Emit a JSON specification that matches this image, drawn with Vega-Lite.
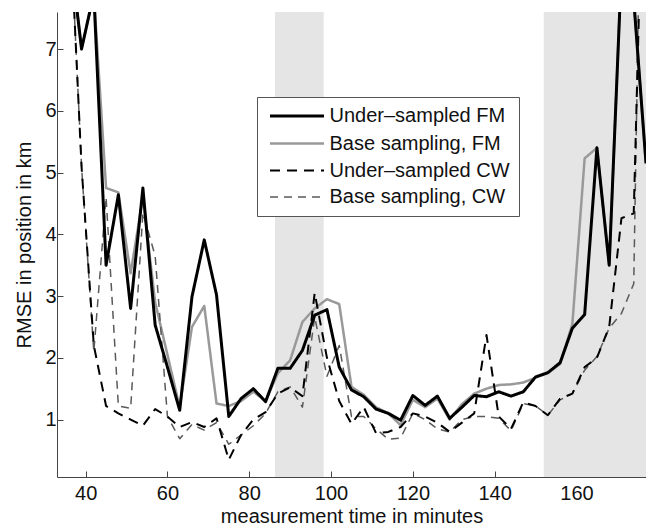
{
  "$schema": "https://vega.github.io/schema/vega-lite/v6.json",
  "width": 589,
  "height": 465,
  "autosize": {"type": "none"},
  "padding": {"left": 57, "top": 12, "right": 0, "bottom": 52},
  "background": "white",
  "config": {
    "view": {"stroke": null},
    "font": "Liberation Sans",
    "axis": {
      "grid": false,
      "domainColor": "#444444",
      "domainWidth": 1,
      "tickColor": "#444444",
      "tickSize": -6,
      "tickWidth": 1,
      "labelFont": "Liberation Sans",
      "labelFontSize": 20,
      "labelColor": "#111111",
      "titleFont": "Liberation Sans",
      "titleFontSize": 20,
      "titleFontWeight": "normal",
      "titleColor": "#111111",
      "zindex": 1
    },
    "legend": {
      "labelFont": "Liberation Sans",
      "labelFontSize": 20,
      "labelColor": "#111111"
    }
  },
  "layer": [
    {
      "data": {"values": [{"start": 86.3, "end": 98.2}, {"start": 152, "end": 177}]},
      "mark": {"type": "rect", "color": "#e5e5e5"},
      "encoding": {
        "x": {"field": "start", "type": "quantitative", "scale": {"domain": [33, 177], "nice": false, "zero": false},
              "axis": {"values": [40, 60, 80, 100, 120, 140, 160], "title": "measurement time in minutes", "labelPadding": 12, "titlePadding": 3}},
        "x2": {"field": "end"}
      }
    },
    {
      "data": {"values": [
        {"t":36,"v":8.7,"s":"Base sampling, FM"},{"t":39,"v":7.0,"s":"Base sampling, FM"},{"t":42,"v":7.9,"s":"Base sampling, FM"},{"t":45,"v":4.75,"s":"Base sampling, FM"},{"t":48,"v":4.68,"s":"Base sampling, FM"},{"t":51,"v":3.37,"s":"Base sampling, FM"},{"t":54,"v":4.6,"s":"Base sampling, FM"},{"t":57,"v":2.9,"s":"Base sampling, FM"},{"t":60,"v":2.05,"s":"Base sampling, FM"},{"t":63,"v":1.2,"s":"Base sampling, FM"},{"t":66,"v":2.5,"s":"Base sampling, FM"},{"t":69,"v":2.84,"s":"Base sampling, FM"},{"t":72,"v":1.26,"s":"Base sampling, FM"},{"t":75,"v":1.22,"s":"Base sampling, FM"},{"t":78,"v":1.3,"s":"Base sampling, FM"},{"t":81,"v":1.45,"s":"Base sampling, FM"},{"t":84,"v":1.3,"s":"Base sampling, FM"},{"t":87,"v":1.75,"s":"Base sampling, FM"},{"t":90,"v":1.96,"s":"Base sampling, FM"},{"t":93,"v":2.58,"s":"Base sampling, FM"},{"t":96,"v":2.8,"s":"Base sampling, FM"},{"t":99,"v":2.95,"s":"Base sampling, FM"},{"t":102,"v":2.87,"s":"Base sampling, FM"},{"t":105,"v":1.53,"s":"Base sampling, FM"},{"t":108,"v":1.4,"s":"Base sampling, FM"},{"t":111,"v":1.2,"s":"Base sampling, FM"},{"t":114,"v":1.1,"s":"Base sampling, FM"},{"t":117,"v":0.91,"s":"Base sampling, FM"},{"t":120,"v":1.32,"s":"Base sampling, FM"},{"t":123,"v":1.2,"s":"Base sampling, FM"},{"t":126,"v":1.34,"s":"Base sampling, FM"},{"t":129,"v":1.0,"s":"Base sampling, FM"},{"t":132,"v":1.25,"s":"Base sampling, FM"},{"t":135,"v":1.42,"s":"Base sampling, FM"},{"t":138,"v":1.5,"s":"Base sampling, FM"},{"t":141,"v":1.56,"s":"Base sampling, FM"},{"t":144,"v":1.57,"s":"Base sampling, FM"},{"t":147,"v":1.6,"s":"Base sampling, FM"},{"t":150,"v":1.68,"s":"Base sampling, FM"},{"t":153,"v":1.75,"s":"Base sampling, FM"},{"t":156,"v":1.9,"s":"Base sampling, FM"},{"t":159,"v":2.55,"s":"Base sampling, FM"},{"t":162,"v":5.23,"s":"Base sampling, FM"},{"t":165,"v":5.4,"s":"Base sampling, FM"},{"t":168,"v":3.5,"s":"Base sampling, FM"},{"t":171,"v":8.3,"s":"Base sampling, FM"},{"t":174,"v":7.8,"s":"Base sampling, FM"},{"t":177,"v":5.15,"s":"Base sampling, FM"},

        {"t":36,"v":9.3,"s":"Base sampling, CW"},{"t":39,"v":5.1,"s":"Base sampling, CW"},{"t":42,"v":2.1,"s":"Base sampling, CW"},{"t":45,"v":4.6,"s":"Base sampling, CW"},{"t":48,"v":1.22,"s":"Base sampling, CW"},{"t":51,"v":1.18,"s":"Base sampling, CW"},{"t":54,"v":4.35,"s":"Base sampling, CW"},{"t":57,"v":3.65,"s":"Base sampling, CW"},{"t":60,"v":1.05,"s":"Base sampling, CW"},{"t":63,"v":0.69,"s":"Base sampling, CW"},{"t":66,"v":0.92,"s":"Base sampling, CW"},{"t":69,"v":0.83,"s":"Base sampling, CW"},{"t":72,"v":0.95,"s":"Base sampling, CW"},{"t":75,"v":0.6,"s":"Base sampling, CW"},{"t":78,"v":0.75,"s":"Base sampling, CW"},{"t":81,"v":0.9,"s":"Base sampling, CW"},{"t":84,"v":1.1,"s":"Base sampling, CW"},{"t":87,"v":1.45,"s":"Base sampling, CW"},{"t":90,"v":1.53,"s":"Base sampling, CW"},{"t":93,"v":1.2,"s":"Base sampling, CW"},{"t":96,"v":2.66,"s":"Base sampling, CW"},{"t":99,"v":1.7,"s":"Base sampling, CW"},{"t":102,"v":2.2,"s":"Base sampling, CW"},{"t":105,"v":1.05,"s":"Base sampling, CW"},{"t":108,"v":1.05,"s":"Base sampling, CW"},{"t":111,"v":0.85,"s":"Base sampling, CW"},{"t":114,"v":0.68,"s":"Base sampling, CW"},{"t":117,"v":0.7,"s":"Base sampling, CW"},{"t":120,"v":1.1,"s":"Base sampling, CW"},{"t":123,"v":1.0,"s":"Base sampling, CW"},{"t":126,"v":0.85,"s":"Base sampling, CW"},{"t":129,"v":0.8,"s":"Base sampling, CW"},{"t":132,"v":1.0,"s":"Base sampling, CW"},{"t":135,"v":1.05,"s":"Base sampling, CW"},{"t":138,"v":1.05,"s":"Base sampling, CW"},{"t":141,"v":1.02,"s":"Base sampling, CW"},{"t":144,"v":0.82,"s":"Base sampling, CW"},{"t":147,"v":1.26,"s":"Base sampling, CW"},{"t":150,"v":1.22,"s":"Base sampling, CW"},{"t":153,"v":1.07,"s":"Base sampling, CW"},{"t":156,"v":1.32,"s":"Base sampling, CW"},{"t":159,"v":1.42,"s":"Base sampling, CW"},{"t":162,"v":1.8,"s":"Base sampling, CW"},{"t":165,"v":2.02,"s":"Base sampling, CW"},{"t":168,"v":2.48,"s":"Base sampling, CW"},{"t":171,"v":2.72,"s":"Base sampling, CW"},{"t":174,"v":3.2,"s":"Base sampling, CW"},{"t":177,"v":15,"s":"Base sampling, CW"},

        {"t":36,"v":9.3,"s":"Under–sampled CW"},{"t":39,"v":5.1,"s":"Under–sampled CW"},{"t":42,"v":2.2,"s":"Under–sampled CW"},{"t":45,"v":1.22,"s":"Under–sampled CW"},{"t":48,"v":1.1,"s":"Under–sampled CW"},{"t":51,"v":1.0,"s":"Under–sampled CW"},{"t":54,"v":0.9,"s":"Under–sampled CW"},{"t":57,"v":1.17,"s":"Under–sampled CW"},{"t":60,"v":1.05,"s":"Under–sampled CW"},{"t":63,"v":0.88,"s":"Under–sampled CW"},{"t":66,"v":0.96,"s":"Under–sampled CW"},{"t":69,"v":0.88,"s":"Under–sampled CW"},{"t":72,"v":1.02,"s":"Under–sampled CW"},{"t":75,"v":0.35,"s":"Under–sampled CW"},{"t":78,"v":0.75,"s":"Under–sampled CW"},{"t":81,"v":1.0,"s":"Under–sampled CW"},{"t":84,"v":1.12,"s":"Under–sampled CW"},{"t":87,"v":1.42,"s":"Under–sampled CW"},{"t":90,"v":1.52,"s":"Under–sampled CW"},{"t":93,"v":1.38,"s":"Under–sampled CW"},{"t":96,"v":3.05,"s":"Under–sampled CW"},{"t":99,"v":2.0,"s":"Under–sampled CW"},{"t":102,"v":1.3,"s":"Under–sampled CW"},{"t":105,"v":0.93,"s":"Under–sampled CW"},{"t":108,"v":1.2,"s":"Under–sampled CW"},{"t":111,"v":0.78,"s":"Under–sampled CW"},{"t":114,"v":0.8,"s":"Under–sampled CW"},{"t":117,"v":0.88,"s":"Under–sampled CW"},{"t":120,"v":1.1,"s":"Under–sampled CW"},{"t":123,"v":1.05,"s":"Under–sampled CW"},{"t":126,"v":0.95,"s":"Under–sampled CW"},{"t":129,"v":0.8,"s":"Under–sampled CW"},{"t":132,"v":0.95,"s":"Under–sampled CW"},{"t":135,"v":1.1,"s":"Under–sampled CW"},{"t":138,"v":2.37,"s":"Under–sampled CW"},{"t":141,"v":1.05,"s":"Under–sampled CW"},{"t":144,"v":0.85,"s":"Under–sampled CW"},{"t":147,"v":1.28,"s":"Under–sampled CW"},{"t":150,"v":1.22,"s":"Under–sampled CW"},{"t":153,"v":1.07,"s":"Under–sampled CW"},{"t":156,"v":1.34,"s":"Under–sampled CW"},{"t":159,"v":1.42,"s":"Under–sampled CW"},{"t":162,"v":1.85,"s":"Under–sampled CW"},{"t":165,"v":2.0,"s":"Under–sampled CW"},{"t":168,"v":2.5,"s":"Under–sampled CW"},{"t":171,"v":4.26,"s":"Under–sampled CW"},{"t":174,"v":4.34,"s":"Under–sampled CW"},{"t":177,"v":12,"s":"Under–sampled CW"},

        {"t":36,"v":8.7,"s":"Under–sampled FM"},{"t":39,"v":7.0,"s":"Under–sampled FM"},{"t":42,"v":7.9,"s":"Under–sampled FM"},{"t":45,"v":3.5,"s":"Under–sampled FM"},{"t":48,"v":4.64,"s":"Under–sampled FM"},{"t":51,"v":2.8,"s":"Under–sampled FM"},{"t":54,"v":4.75,"s":"Under–sampled FM"},{"t":57,"v":2.53,"s":"Under–sampled FM"},{"t":60,"v":1.85,"s":"Under–sampled FM"},{"t":63,"v":1.15,"s":"Under–sampled FM"},{"t":66,"v":2.99,"s":"Under–sampled FM"},{"t":69,"v":3.91,"s":"Under–sampled FM"},{"t":72,"v":3.02,"s":"Under–sampled FM"},{"t":75,"v":1.05,"s":"Under–sampled FM"},{"t":78,"v":1.34,"s":"Under–sampled FM"},{"t":81,"v":1.5,"s":"Under–sampled FM"},{"t":84,"v":1.29,"s":"Under–sampled FM"},{"t":87,"v":1.83,"s":"Under–sampled FM"},{"t":90,"v":1.83,"s":"Under–sampled FM"},{"t":93,"v":2.12,"s":"Under–sampled FM"},{"t":96,"v":2.69,"s":"Under–sampled FM"},{"t":99,"v":2.78,"s":"Under–sampled FM"},{"t":102,"v":1.85,"s":"Under–sampled FM"},{"t":105,"v":1.48,"s":"Under–sampled FM"},{"t":108,"v":1.37,"s":"Under–sampled FM"},{"t":111,"v":1.17,"s":"Under–sampled FM"},{"t":114,"v":1.1,"s":"Under–sampled FM"},{"t":117,"v":0.99,"s":"Under–sampled FM"},{"t":120,"v":1.39,"s":"Under–sampled FM"},{"t":123,"v":1.23,"s":"Under–sampled FM"},{"t":126,"v":1.38,"s":"Under–sampled FM"},{"t":129,"v":1.02,"s":"Under–sampled FM"},{"t":132,"v":1.2,"s":"Under–sampled FM"},{"t":135,"v":1.39,"s":"Under–sampled FM"},{"t":138,"v":1.37,"s":"Under–sampled FM"},{"t":141,"v":1.45,"s":"Under–sampled FM"},{"t":144,"v":1.38,"s":"Under–sampled FM"},{"t":147,"v":1.45,"s":"Under–sampled FM"},{"t":150,"v":1.69,"s":"Under–sampled FM"},{"t":153,"v":1.76,"s":"Under–sampled FM"},{"t":156,"v":1.92,"s":"Under–sampled FM"},{"t":159,"v":2.48,"s":"Under–sampled FM"},{"t":162,"v":2.7,"s":"Under–sampled FM"},{"t":165,"v":5.4,"s":"Under–sampled FM"},{"t":168,"v":3.5,"s":"Under–sampled FM"},{"t":171,"v":8.3,"s":"Under–sampled FM"},{"t":174,"v":7.8,"s":"Under–sampled FM"},{"t":177,"v":5.15,"s":"Under–sampled FM"}
      ]},
      "mark": {"type": "line", "clip": true, "strokeJoin": "round"},
      "encoding": {
        "x": {"field": "t", "type": "quantitative", "scale": {"domain": [33, 177], "nice": false, "zero": false},
              "axis": {"values": [40, 60, 80, 100, 120, 140, 160], "title": "measurement time in minutes", "labelPadding": 12, "titlePadding": 3}},
        "y": {"field": "v", "type": "quantitative", "scale": {"domain": [0.07, 7.6], "nice": false, "zero": false},
              "axis": {"values": [1, 2, 3, 4, 5, 6, 7], "title": "RMSE in position in km", "labelPadding": 7, "titlePadding": 10}},
        "color": {"field": "s", "type": "nominal",
                  "scale": {"domain": ["Under–sampled FM", "Base sampling, FM", "Under–sampled CW", "Base sampling, CW"], "range": ["#000000", "#999999", "#000000", "#5a5a5a"]},
                  "legend": {"title": null, "orient": "none", "legendX": 200, "legendY": 85, "symbolType": "M-3,0L3,0", "symbolSize": 324, "symbolOffset": 21, "strokeColor": "#555555", "fillColor": "white", "padding": 8.5, "rowPadding": 6.5, "labelOffset": 22, "labelFontSize": 20, "labelLimit": 400}},
        "strokeDash": {"field": "s", "type": "nominal",
                       "scale": {"domain": ["Under–sampled FM", "Base sampling, FM", "Under–sampled CW", "Base sampling, CW"], "range": [[1, 0], [1, 0], [10, 7], [8, 6]]},
                       "legend": {"title": null, "orient": "none", "legendX": 200, "legendY": 85, "symbolType": "M-3,0L3,0", "symbolSize": 324, "symbolOffset": 21, "strokeColor": "#555555", "fillColor": "white", "padding": 8.5, "rowPadding": 6.5, "labelOffset": 22, "labelFontSize": 20, "labelLimit": 400}},
        "strokeWidth": {"field": "s", "type": "nominal",
                        "scale": {"domain": ["Under–sampled FM", "Base sampling, FM", "Under–sampled CW", "Base sampling, CW"], "range": [3, 1.5, 3, 1.5]},
                        "legend": {"title": null, "orient": "none", "legendX": 200, "legendY": 85, "symbolType": "M-3,0L3,0", "symbolSize": 324, "symbolOffset": 21, "strokeColor": "#555555", "fillColor": "white", "padding": 8.5, "rowPadding": 6.5, "labelOffset": 22, "labelFontSize": 20, "labelLimit": 400}}
      }
    }
  ]
}
